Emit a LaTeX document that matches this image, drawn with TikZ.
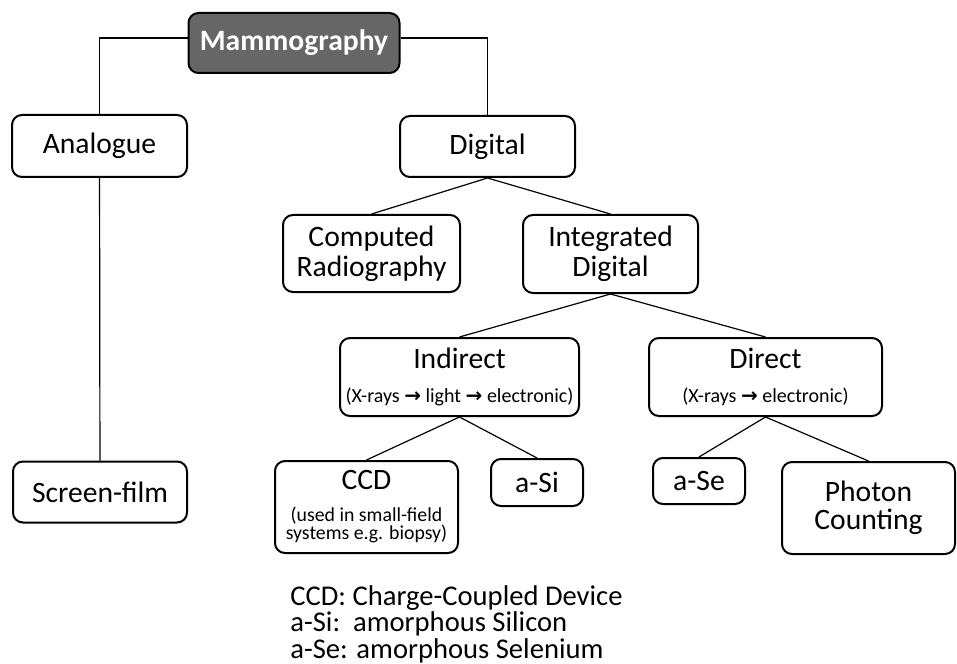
\documentclass[tikz,border=0pt]{standalone}
\usepackage{fontspec}
\setmainfont{Carlito}
\newfontfamily\arrowfont{DejaVu Sans}
\usepackage{tikz}
\usetikzlibrary{positioning}
\tikzstyle{box} = [rectangle, draw, line width=1pt, rounded corners=5pt, align=center, inner sep=0pt, font=\fontsize{14.8}{15}\selectfont]
\tikzstyle{root} = [box, fill=black!60, text=white, font=\bfseries\fontsize{14.8}{15}\selectfont]
\tikzstyle{line} = [draw, line width=0.6pt]
\newcommand{\toarr}{{\arrowfont\bfseries\char"2192}}
\newcommand{\subtxt}{\fontsize{10}{10}\selectfont}
\protected\def\tightskip{\lineskiplimit=-10pt\relax}

\begin{document}
\begin{tikzpicture}[x=0.5pt, y=-0.5pt]
\useasboundingbox (0,0) rectangle (957,663);
\node (mam) [root, minimum width=105.5pt, minimum height=30pt] at (294,43) {Mammography};
\node (ana) [box, minimum width=87.5pt, minimum height=31pt] at (99.5,146) {Analogue};
\node (dig) [box, minimum width=87.5pt, minimum height=30.5pt] at (487.5,146.5) {Digital};
\node (scr) [box, minimum width=87pt, minimum height=30.5pt] at (100,492) {Screen-film};
\node (cr) [box, minimum width=88.5pt, minimum height=38.5pt] at (371.5,253.5) {Computed\\Radiography};
\node (intd) [box, minimum width=87.5pt, minimum height=39pt] at (610.5,254) {Integrated\\Digital};
\node (ind) [box, minimum width=119.5pt, minimum height=39pt] at (459.5,377) {Indirect\\[2.25pt]{\subtxt(X-rays \toarr{} light \toarr{} electronic)}};
\node (dir) [box, minimum width=116.5pt, minimum height=39pt] at (765.5,377) {Direct\\[2.25pt]{\subtxt(X-rays \toarr{} electronic)}};
\node (ccd) [box, minimum width=91.5pt, minimum height=46pt, font=\fontsize{14.8}{9}\selectfont\tightskip] at (366.5,507) {CCD\\[7pt]{\fontsize{9.9}{9}\selectfont (used in small-field}\\{\fontsize{9.9}{9}\selectfont systems e.g. biopsy)}};
\node (asi) [box, minimum width=46pt, minimum height=23.5pt] at (537,482.5) {a-Si};
\node (ase) [box, minimum width=46pt, minimum height=23pt] at (699,481) {a-Se};
\node (pho) [box, minimum width=86.5pt, minimum height=46pt, font=\fontsize{14.8}{14}\selectfont] at (868.5,508) {Photon\\Counting};

\draw [line] ([yshift=2.5pt]mam.west) -| (ana.north);
\draw [line] ([yshift=2.5pt]mam.east) -| (dig.north);
\draw [line] (ana) -- (scr);
\draw [line] (dig.south) -- (cr.north);
\draw [line] (dig.south) -- (intd.north);
\draw [line] (intd.south) -- (ind.north);
\draw [line] (intd.south) -- (dir.north);
\draw [line] (ind.south) -- (ccd.north);
\draw [line] (ind.south) -- (asi.north);
\draw [line] (dir.south) -- (ase.north);
\draw [line] (dir.south) -- (pho.north);

\node (leg) [anchor=west, align=left, inner sep=0pt, font=\fontsize{14.3}{13.3}\selectfont\tightskip] at (290,624) {CCD: Charge-Coupled Device\\a-Si:\ \ amorphous Silicon\\a-Se: amorphous Selenium};
\end{tikzpicture}
\end{document}
